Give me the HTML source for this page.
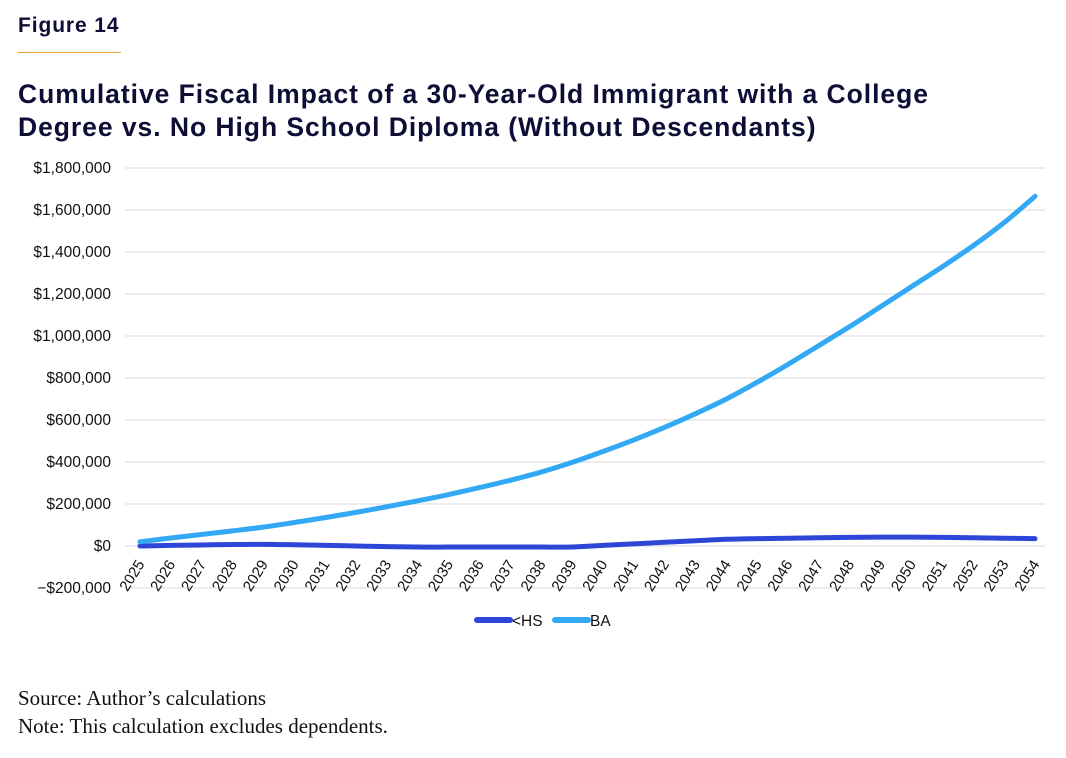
<!DOCTYPE html>
<html><head><meta charset="utf-8"><style>
body{margin:0;background:#fff;width:1066px;height:758px;overflow:hidden;font-family:"Liberation Sans",sans-serif;color:#0d0d35}
#fig{position:absolute;left:18px;top:14px;font-size:21px;font-weight:bold;letter-spacing:0.9px}
#rule{position:absolute;left:18px;top:52px;width:103px;height:1px;background:#e8a040}
#title{position:absolute;left:18px;top:78px;font-size:26.5px;font-weight:bold;line-height:33px;letter-spacing:0.95px}
.note{position:absolute;left:18px;font-family:"Liberation Serif",serif;font-size:21px;color:#111}
svg{position:absolute;left:0;top:0}
</style></head><body>
<div id="fig">Figure 14</div>
<div id="rule"></div>
<div id="title">Cumulative Fiscal Impact of a 30-Year-Old Immigrant with a College<br>Degree vs. No High School Diploma (Without Descendants)</div>
<svg id="chart" width="1066" height="758"></svg>
<div class="note" style="top:686px">Source: Author’s calculations</div>
<div class="note" style="top:714px">Note: This calculation excludes dependents.</div>
<script>
const years=[2025,2026,2027,2028,2029,2030,2031,2032,2033,2034,2035,2036,2037,2038,2039,2040,2041,2042,2043,2044,2045,2046,2047,2048,2049,2050,2051,2052,2053,2054];
const baValues=[20000,38000,55000,72000,90000,112000,135000,160000,187000,215000,245000,278000,313000,352000,398000,450000,505000,565000,630000,700000,780000,865000,955000,1045000,1140000,1235000,1330000,1430000,1540000,1665000];
const hsValues=[0,3000,5000,7000,8000,6000,3000,0,-3000,-5000,-5000,-5000,-5000,-5000,-5000,3000,10000,18000,25000,32000,35000,37000,39000,41000,42000,42000,41000,39000,37000,35000];
const yTicks=[-200000,0,200000,400000,600000,800000,1000000,1200000,1400000,1600000,1800000];
const yTickLabels=["−$200,000","$0","$200,000","$400,000","$600,000","$800,000","$1,000,000","$1,200,000","$1,400,000","$1,600,000","$1,800,000"];
const svg=document.getElementById('chart');const NS='http://www.w3.org/2000/svg';
const x=i=>140+i*(1035-140)/(years.length-1);
const y=v=>546-v*(378/1800000);
function mk(t,a){const e=document.createElementNS(NS,t);for(const k in a)e.setAttribute(k,a[k]);svg.appendChild(e);return e;}
yTicks.forEach((v,i)=>{
 const g=mk('line',{x1:125,x2:1045,y1:y(v),y2:y(v),stroke:'#d9d9d9','stroke-width':1});
 
 
 const t=mk('text',{x:111,y:y(v)+5,'text-anchor':'end','font-size':15.5,fill:'#111','font-family':'Liberation Sans, sans-serif'});
 t.textContent=yTickLabels[i];
 
 
});
years.forEach((yr,i)=>{
 const t=mk('text',{x:x(i)+5,y:564,'text-anchor':'end','font-size':15,fill:'#111','font-family':'Liberation Sans, sans-serif',transform:`rotate(-58 ${x(i)+5} 564)`});
 t.textContent=yr;
 
 
});
function path(vals){let d='';for(let i=0;i<vals.length;i++){const px=x(i),py=y(vals[i]);if(i==0)d='M'+px+' '+py;else{const p0=i>1?i-2:i-1,p3=i<vals.length-1?i+1:i;const c1x=x(i-1)+(x(i)-x(p0))/6,c1y=y(vals[i-1])+(y(vals[i])-y(vals[p0]))/6,c2x=x(i)-(x(p3)-x(i-1))/6,c2y=y(vals[i])-(y(vals[p3])-y(vals[i-1]))/6;d+=` C${c1x} ${c1y} ${c2x} ${c2y} ${px} ${py}`;}}return d;}
const l1=mk('path',{d:path(hsValues),fill:'none',stroke:'#2e46d8','stroke-width':5,'stroke-linecap':'round'});


const l2=mk('path',{d:path(baValues),fill:'none',stroke:'#33a8f5','stroke-width':5,'stroke-linecap':'round'});


const lg=[['<HS','#2e46d8',477],['BA','#33a8f5',555]];
lg.forEach(([lab,c,lx])=>{
 const s=mk('line',{x1:lx,x2:lx+33,y1:620,y2:620,stroke:c,'stroke-width':6,'stroke-linecap':'round'});
 
 
 const t=mk('text',{x:lx+35,y:626,'font-size':15.5,fill:'#111','font-family':'Liberation Sans, sans-serif'});
 t.textContent=lab;
 
 
});
</script>
</body></html>
